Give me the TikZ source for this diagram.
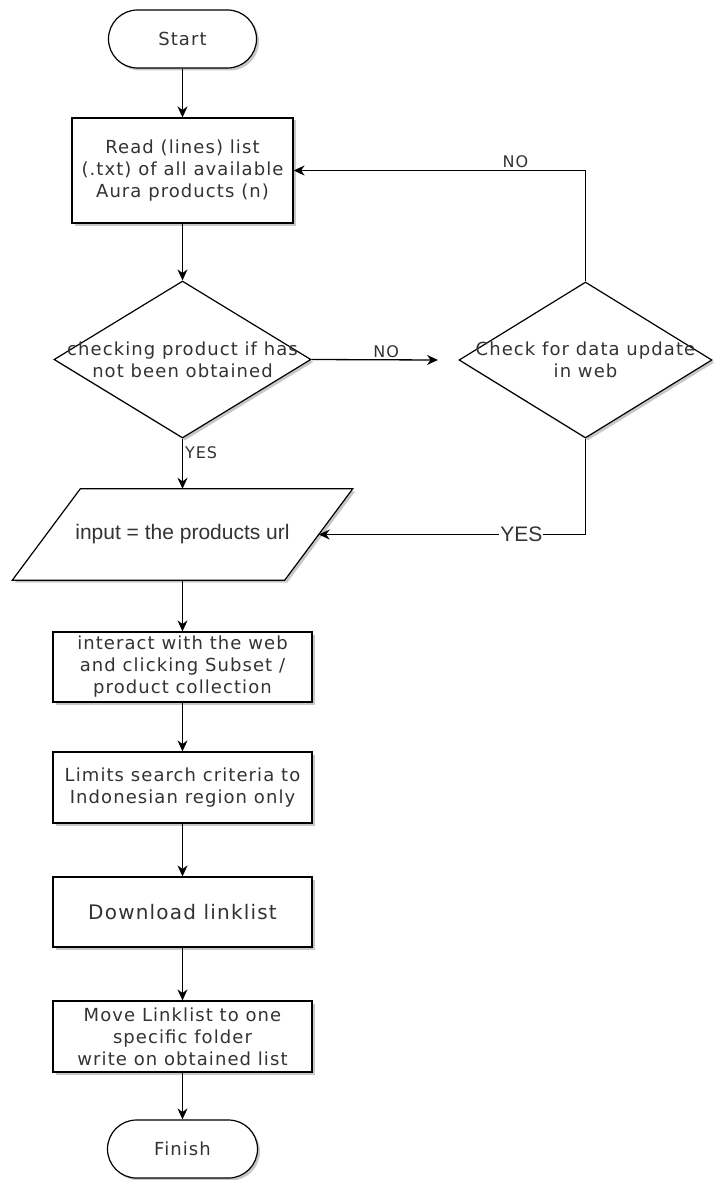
\documentclass[tikz,border=0pt]{standalone}
\usepackage{fontspec}
\setmainfont{DejaVu Sans}[LetterSpace=6]
\newfontfamily\arialfont{Liberation Sans}
\usetikzlibrary{shapes.geometric,shadows,arrows.meta,calc}
\definecolor{txt}{HTML}{333333}
\begin{document}
\begin{tikzpicture}[x=1pt,y=-1pt,
  every node/.style={text=txt, inner sep=0pt},
  shad/.style={drop shadow={shadow xshift=2.5pt,shadow yshift=-2.5pt,fill=black,opacity=0.22}},
  term/.style={draw, line width=1.2pt, fill=white, shad, rectangle, rounded corners=29pt, minimum width=148pt, minimum height=58pt, font=\fontsize{18}{22}\selectfont},
  proc/.style={draw, line width=1.2pt, fill=white, shad, rectangle, align=center, minimum width=259pt, font=\fontsize{18}{22}\selectfont},
  dec/.style={draw, line width=1.2pt, fill=white, shad, diamond, inner sep=0pt},
  dtext/.style={align=center, font=\fontsize{18}{22}\selectfont},
  io/.style={rectangle, minimum width=272pt, minimum height=91pt, font=\arialfont\fontsize{21}{24}\selectfont},
  ioshape/.style={draw, line width=1.2pt, fill=white, shad},
  arr/.style={-{Stealth[length=11pt,width=10pt]}, line width=1.3pt},
  lbl/.style={font=\fontsize{16}{18}\selectfont}
]
\useasboundingbox (0,0) rectangle (713,1180);
\fill[white] (0,0) rectangle (713,1180);

\node[term] (start) at (182.5,39) {Start};
\node[proc, minimum width=221pt, minimum height=105pt] (read) at (182.5,170.5) {Read (lines) list\\(.txt) of all available\\Aura products (n)};
\node[dec, minimum width=257pt, minimum height=157pt, label={[name=d1t, dtext]center:checking product if has\\not been obtained}] (d1) at (182.5,359.5) {};
\node[dec, minimum width=253pt, minimum height=156pt, label={[name=d2t, dtext]center:Check for data update\\in web}] (d2) at (585.5,360) {};
\node[io] (in) at (182.5,534.5) {};
\path[ioshape] ($(in.north west)+(34,0)$) -- ($(in.north east)+(34,0)$) -- ($(in.south east)+(-34,0)$) -- ($(in.south west)+(-34,0)$) -- cycle;
\node[io] (intext) at (in) {input = the products url};
\node[proc, minimum height=70pt] (b3) at (182.5,667) {interact with the web\\and clicking Subset /\\product collection};
\node[proc, minimum height=71pt] (b4) at (182.5,787.5) {Limits search criteria to\\Indonesian region only};
\node[proc, minimum height=70pt, font=\fontsize{20}{24}\selectfont] (b5) at (182.5,912) {Download linklist};
\node[proc, minimum height=71pt] (b6) at (182.5,1036.5) {Move Linklist to one\\specific folder\\write on obtained list};
\node[term, minimum width=150pt] (fin) at (182.5,1149) {Finish};
\coordinate (noend) at (438,360);

\draw[arr] (start) -- (read);
\draw[arr] (read) -- (d1);
\draw[arr] (d1.east) -- node[lbl, above=1pt, pos=0.59]{NO} (noend);
\draw[arr] (d2.north) |- node[lbl, pos=0.62, above=2pt]{NO} (read.east);
\draw[arr] (d2.south) |- node[font=\arialfont\fontsize{21}{24}\selectfont, fill=white, pos=0.62, inner sep=1pt]{YES} (in.east);
\draw[arr] (d1.south) -- node[lbl, pos=0.15, anchor=north west, xshift=2pt]{YES} (in.north);
\draw[arr] (in.south) -- (b3);
\draw[arr] (b3) -- (b4);
\draw[arr] (b4) -- (b5);
\draw[arr] (b5) -- (b6);
\draw[arr] (b6) -- (fin);
\end{tikzpicture}
\end{document}
